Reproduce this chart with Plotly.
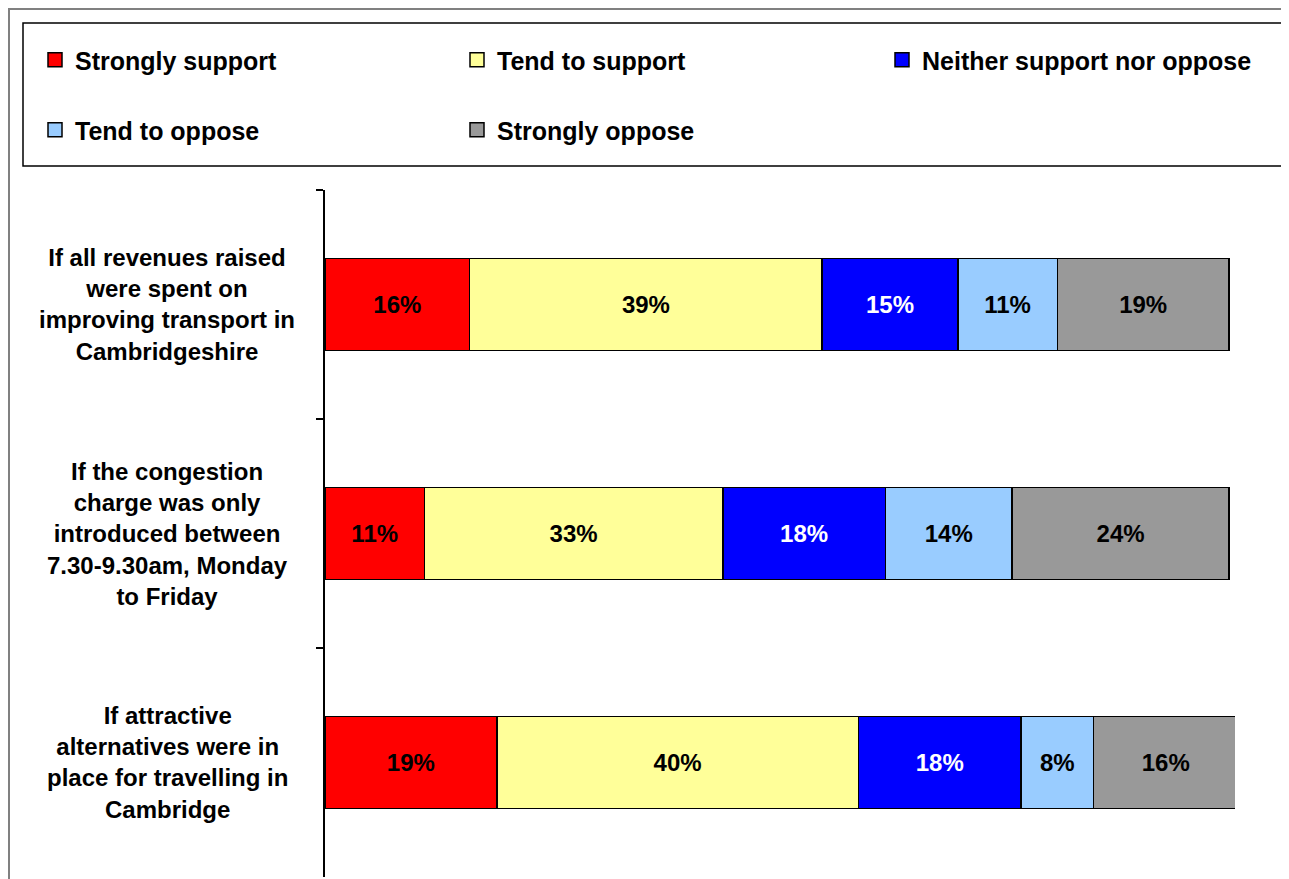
import plotly.graph_objects as go

categories = [
    "If all revenues raised<br>were spent on<br>improving transport in<br>Cambridgeshire",
    "If the congestion<br>charge was only<br>introduced between<br>7.30-9.30am, Monday<br>to Friday",
    "If attractive<br>alternatives were in<br>place for travelling in<br>Cambridge",
]
cat_keys = ["revenues", "peak", "alternatives"]

series_names = ["Strongly support", "Tend to support", "Neither support nor oppose",
                "Tend to oppose", "Strongly oppose"]
strongly_support = [16, 11, 19]
tend_to_support = [39, 33, 40]
neither = [15, 18, 18]
tend_to_oppose = [11, 14, 8]
strongly_oppose = [19, 24, 16]
series_values = [strongly_support, tend_to_support, neither, tend_to_oppose, strongly_oppose]

colors = ["#FF0000", "#FFFF99", "#0000FF", "#99CCFF", "#999999"]
text_colors = ["black", "black", "white", "black", "black"]

# page body has an 8px margin; size/positions compensate for it
W, H = 1281, 871
L, R, T, B = 317, 54, 182, 2
pw, ph = W - L - R, H - T - B

def px(sx):
    return (sx - 8 - L) / pw

def py(sy):
    return (H - B - (sy - 8)) / ph

FONT = "Liberation Sans, Arial, sans-serif"
FS = 24
LFS = 25

# legend anchor positions (screen px): left x, row center y
legend_pos = [(35, 60), (457, 60), (882, 60), (35, 130), (457, 130)]
legend_ids = ["legend", "legend2", "legend3", "legend4", "legend5"]

fig = go.Figure()
for i, (name, vals) in enumerate(zip(series_names, series_values)):
    fig.add_trace(go.Bar(
        y=cat_keys, x=vals, name=name, orientation="h",
        marker=dict(color=colors[i], line=dict(color="black", width=1.5)),
        text=[f"{v}%" for v in vals], textposition="inside",
        insidetextanchor="middle", textangle=0, constraintext="none",
        insidetextfont=dict(family=FONT, size=FS, color=text_colors[i], weight="bold"),
        showlegend=False, legendgroup=name,
        hoverinfo="skip",
    ))

# legend keys (square swatches, as in the original legend)
for i, name in enumerate(series_names):
    fig.add_trace(go.Scatter(
        x=[None], y=[cat_keys[0]], mode="markers", name=name, legendgroup=name,
        marker=dict(symbol="square", size=14, color=colors[i],
                    line=dict(color="black", width=1.5)),
        legend=legend_ids[i], showlegend=True, hoverinfo="skip",
    ))

layout_legends = {}
for lid, (lx, ly) in zip(legend_ids, legend_pos):
    layout_legends[lid] = dict(orientation="h", x=px(lx), xanchor="left", y=py(ly),
                               yanchor="middle", bgcolor="rgba(0,0,0,0)", borderwidth=0,
                               font=dict(family=FONT, size=LFS, color="black", weight="bold"))

fig.update_layout(
    width=W, height=H,
    margin=dict(l=L, r=R, t=T, b=B),
    paper_bgcolor="white", plot_bgcolor="white",
    showlegend=True,
    barmode="stack", bargap=0.6,
    font=dict(family=FONT, size=FS, color="black", weight="bold"),
    xaxis=dict(range=[0, 100.66], visible=False, fixedrange=True),
    yaxis=dict(categoryorder="array", categoryarray=cat_keys, autorange="reversed",
               showticklabels=False, showline=True, linecolor="black", linewidth=1.5,
               ticks="outside", ticklen=7, tickwidth=1.5, tickcolor="black",
               tickson="boundaries", showgrid=False, zeroline=False),
    shapes=[
        dict(type="rect", xref="paper", yref="paper", x0=px(9), x1=px(1300), y0=py(890), y1=py(9),
             line=dict(color="#808080", width=2), fillcolor="rgba(0,0,0,0)", layer="below"),
        dict(type="rect", xref="paper", yref="paper", x0=px(23), x1=px(1288), y0=py(166), y1=py(23),
             line=dict(color="black", width=1.5), fillcolor="rgba(0,0,0,0)", layer="below"),
    ],
    **layout_legends,
)

for key, label in zip(cat_keys, categories):
    fig.add_annotation(x=px(167), xref="paper", y=key, yref="y", text=label,
                       showarrow=False, xanchor="center", yanchor="middle", align="center",
                       font=dict(family=FONT, size=FS, color="black", weight="bold"))

fig.write_html("out.html")
